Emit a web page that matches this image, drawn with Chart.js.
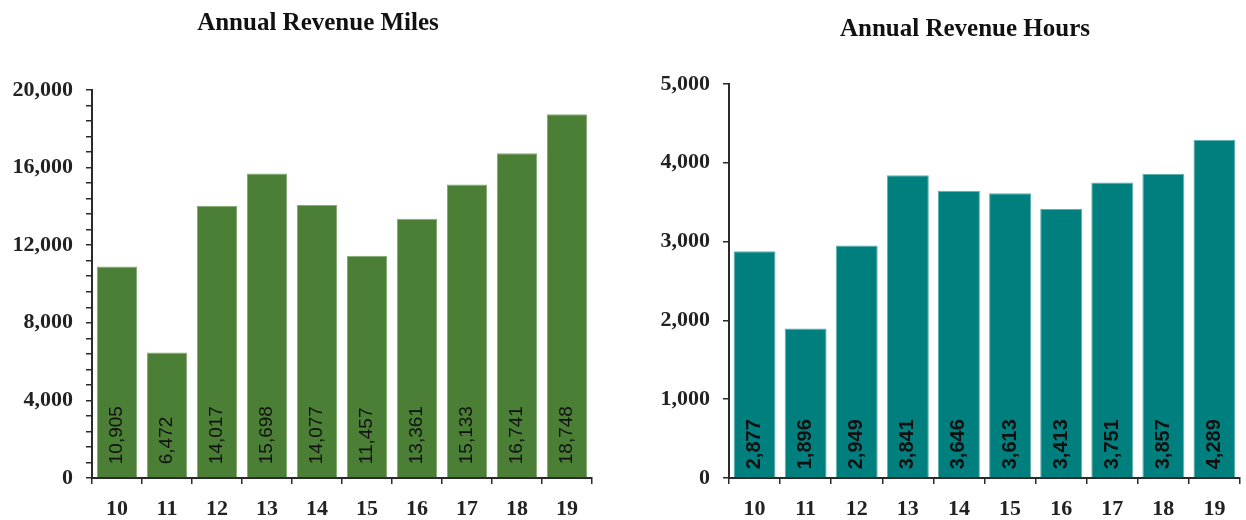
<!DOCTYPE html>
<html>
<head>
<meta charset="utf-8">
<script src="https://cdn.jsdelivr.net/npm/chart.js@4"></script>
<style>
  body { margin: 0; background: #fff; overflow: hidden; width: 1246px; height: 520px; position: relative; }
  canvas { position: absolute; top: 0; }
  #milesChart { left: 0; }
  #hoursChart { left: 650px; }
</style>
</head>
<body>
<canvas id="milesChart" width="636" height="520"></canvas>
<canvas id="hoursChart" width="630" height="520"></canvas>
<script>
// Fiscal years and the two annual series
const years = ["10", "11", "12", "13", "14", "15", "16", "17", "18", "19"];
const revenueMiles = [10905, 6472, 14017, 15698, 14077, 11457, 13361, 15133, 16741, 18748];
const revenueHours = [2877, 1896, 2949, 3841, 3646, 3613, 3413, 3751, 3857, 4289];

const axisFont = { family: "'Liberation Serif', 'Times New Roman', serif", weight: "bold", size: 22 };
const titleFont = { family: "'Liberation Serif', 'Times New Roman', serif", weight: "bold", size: 25 };
const axisColor = "#2a2a2a";

// writes each value vertically at the foot of its bar
const barValues = {
    id: "barValues",
    afterDatasetsDraw(chart, args, opts) {
        const ctx = chart.ctx;
        const meta = chart.getDatasetMeta(0);
        const values = chart.data.datasets[0].data;
        ctx.save();
        ctx.fillStyle = "#111";
        ctx.font = opts.font;
        ctx.textAlign = "left";
        ctx.textBaseline = "middle";
        meta.data.forEach((bar, i) => {
            ctx.save();
            ctx.translate(bar.x, bar.base - opts.offset);
            ctx.rotate(-Math.PI / 2);
            ctx.fillText(values[i].toLocaleString("en-US"), 0, 0);
            ctx.restore();
        });
        ctx.restore();
    },
};

function makeChart(id, cfg) {
    const ctx = document.getElementById(id).getContext("2d");
    return new Chart(ctx, {
        type: "bar",
        data: {
            labels: years,
            datasets: [
                {
                    data: cfg.values,
                    backgroundColor: cfg.color,
                    borderColor: cfg.edge,
                    borderWidth: 1,
                    barPercentage: cfg.barPct,
                    categoryPercentage: 1,
                },
            ],
        },
        plugins: [barValues],
        options: {
            responsive: false,
            animation: false,
            layout: { padding: 0 },
            plugins: {
                legend: { display: false },
                tooltip: { enabled: false },
                title: {
                    display: true,
                    text: cfg.title,
                    color: "#111",
                    font: titleFont,
                    padding: { top: cfg.titleTop, bottom: cfg.titleBottom },
                },
                barValues: { font: cfg.labelFont, offset: cfg.labelOffset },
            },
            scales: {
                x: {
                    afterFit: (scale) => { scale.height = 42; },
                    grid: { offset: true, drawOnChartArea: false, tickLength: 6, color: axisColor, lineWidth: 1.5 },
                    border: { display: true, color: axisColor, width: 2 },
                    ticks: { color: "#222", font: axisFont, padding: 12, maxRotation: 0 },
                },
                y: {
                    min: 0,
                    max: cfg.max,
                    afterFit: (scale) => { scale.width = cfg.axisWidth; },
                    grid: { drawOnChartArea: false, tickLength: 6, color: axisColor, lineWidth: 1.5 },
                    border: { display: true, color: axisColor, width: 2 },
                    ticks: {
                        stepSize: cfg.step,
                        autoSkip: false,
                        color: "#222",
                        font: axisFont,
                        padding: 13,
                        callback: (v) => (v % cfg.major === 0 ? v.toLocaleString("en-US") : ""),
                    },
                },
                // empty right-hand scale, only reserves the blank margin right of the bars
                gutter: {
                    type: "linear",
                    position: "right",
                    afterFit: (scale) => { scale.width = cfg.gutter; },
                    grid: { display: false },
                    border: { display: false },
                    ticks: { display: false },
                },
            },
        },
    });
}

makeChart("milesChart", {
    title: "Annual Revenue Miles",
    values: revenueMiles,
    color: "#4a7f35",
    edge: "#86ab76",
    barPct: 0.8,
    max: 20000,
    step: 800,
    major: 4000,
    gutter: 44,
    axisWidth: 92,
    titleTop: 9,
    titleBottom: 51,
    labelFont: "19px 'Liberation Sans', Arial, sans-serif",
    labelOffset: 13,
});

makeChart("hoursChart", {
    title: "Annual Revenue Hours",
    values: revenueHours,
    color: "#007f7f",
    edge: "#5fb0b0",
    barPct: 0.82,
    max: 5000,
    step: 1000,
    major: 1000,
    gutter: 40,
    axisWidth: 79,
    titleTop: 15,
    titleBottom: 39,
    labelFont: "bold 20px 'Liberation Sans', Arial, sans-serif",
    labelOffset: 8,
});
</script>
</body>
</html>
